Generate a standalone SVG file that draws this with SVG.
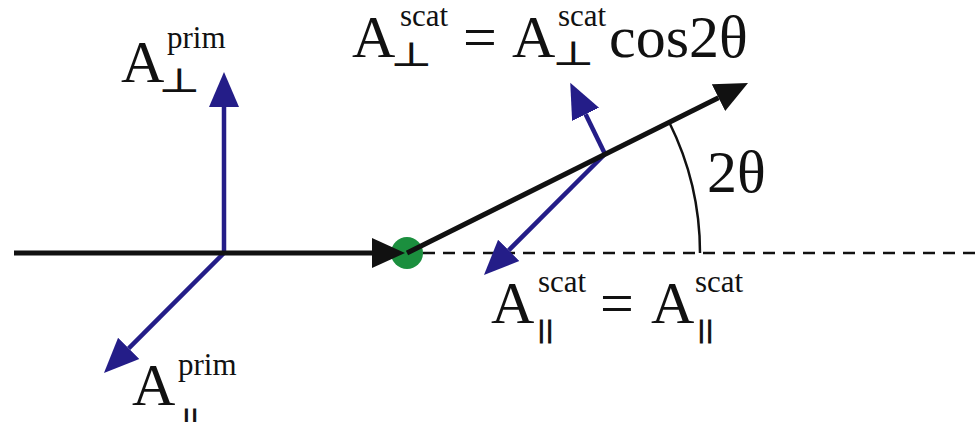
<svg xmlns="http://www.w3.org/2000/svg" width="978" height="422" viewBox="0 0 978 422">
  <style>
    .blk { stroke: #111; stroke-width: 5; fill: none; }
    .blu { stroke: #241d88; stroke-width: 4.5; fill: none; }
    .thin { stroke: #111; stroke-width: 2.5; fill: none; }
    .dash { stroke: #111; stroke-width: 2.5; fill: none; stroke-dasharray: 12 8; }
    .big { font-family: "Liberation Serif", "Times New Roman", serif; font-size: 60px; fill: #111; }
    .sup { font-family: "Liberation Serif", "Times New Roman", serif; font-size: 31px; fill: #111; }
    .perp { font-family: "DejaVu Serif", "DejaVu Sans", serif; font-size: 34px; fill: #111; }
    .par { font-family: "Liberation Serif", "Times New Roman", serif; font-size: 26px; font-weight: bold; fill: #111; stroke: #111; stroke-width: 1.2; letter-spacing: 2.5px; }
  </style>
  <defs>
    <marker id="hk" markerUnits="userSpaceOnUse" viewBox="0 -20 40 40" markerWidth="40" markerHeight="40" refX="0" refY="0" orient="auto">
      <path d="M0,-15 L33,0 L0,15 Z" fill="#111"/>
    </marker>
    <marker id="hb" markerUnits="userSpaceOnUse" viewBox="0 -20 40 40" markerWidth="40" markerHeight="40" refX="0" refY="0" orient="auto">
      <path d="M0,-15 L35,0 L0,15 Z" fill="#241d88"/>
    </marker>
  </defs>

  <g id="scatterer">
    <circle cx="407" cy="253" r="16" fill="#1b8f3e"/>
  </g>

  <g id="connectors">
    <path class="dash" d="M423,253 L978,253"/>
    <path class="thin" d="M669.2,122.3 A293,293 0 0 1 700,253"/>
    <path class="blu" d="M224,253 L224,107" marker-end="url(#hb)"/>
    <path class="blu" d="M224,253 L128.7,348.3" marker-end="url(#hb)"/>
    <path class="blu" d="M605,154 L585.6,114.3" marker-end="url(#hb)"/>
    <path class="blu" d="M605,154 L508.7,250.3" marker-end="url(#hb)"/>
    <path class="blk" d="M14,253 L372,253" marker-end="url(#hk)"/>
    <path class="blk" d="M407,253 L718.5,97.7" marker-end="url(#hk)"/>
  </g>

  <g id="label-prim-perp">
    <text class="big" x="121" y="82">A</text>
    <text class="sup" x="167" y="48">prim</text>
    <text class="perp" transform="translate(158,92) scale(1.35,1)">⊥</text>
  </g>

  <g id="label-prim-par">
    <text class="big" x="132" y="405">A</text>
    <text class="sup" x="178" y="375">prim</text>
    <text class="par" x="183.5" y="426.5">||</text>
  </g>

  <g id="label-scat-perp">
    <text class="big" x="352" y="57">A</text>
    <text class="sup" x="400" y="26">scat</text>
    <text class="perp" transform="translate(390,66) scale(1.35,1)">⊥</text>
    <text class="big" x="463" y="57">=</text>
    <text class="big" x="512" y="57">A</text>
    <text class="sup" x="558" y="26">scat</text>
    <text class="perp" transform="translate(552,65) scale(1.35,1)">⊥</text>
    <text class="big" x="609" y="57">cos2θ</text>
  </g>

  <g id="label-angle">
    <text class="big" x="707" y="192">2θ</text>
  </g>

  <g id="label-scat-par">
    <text class="big" x="491" y="323">A</text>
    <text class="sup" x="538" y="292">scat</text>
    <text class="par" x="538.5" y="337.5">||</text>
    <text class="big" x="600" y="323">=</text>
    <text class="big" x="651" y="323">A</text>
    <text class="sup" x="695" y="292">scat</text>
    <text class="par" x="698.5" y="337.5">||</text>
  </g>
</svg>
